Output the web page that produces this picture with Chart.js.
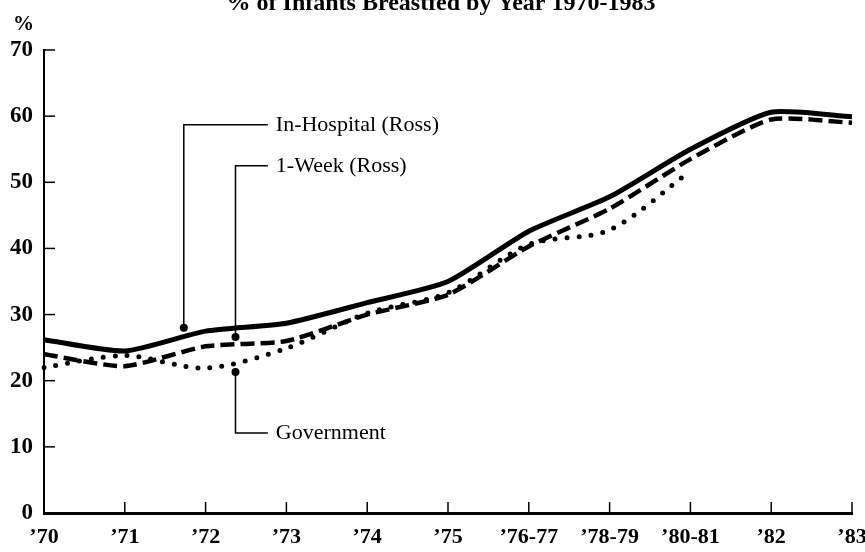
<!DOCTYPE html>
<html>
<head>
<meta charset="utf-8">
<script src="https://cdn.jsdelivr.net/npm/chart.js@4/dist/chart.umd.min.js"></script>
<style>
  html, body { margin: 0; padding: 0; background: #fff; }
  #wrap { width: 865px; height: 552px; position: relative; }
</style>
</head>
<body>
<div id="wrap"><canvas id="c"></canvas></div>
<script>
// data
const years = ['\u201970', '\u201971', '\u201972', '\u201973', '\u201974', '\u201975', '\u201976-77', '\u201978-79', '\u201980-81', '\u201982', '\u201983'];
const inHospital = [26.2, 24.5, 27.5, 28.7, 31.8, 35.0, 42.6, 47.8, 55.0, 60.6, 59.9];
const oneWeek    = [24.0, 22.2, 25.2, 26.0, 30.0, 33.0, 40.3, 46.0, 53.5, 59.5, 59.0];
const government = [22.0, 23.8, 21.9, 24.9, 30.2, 33.3, 40.6, 42.8, 51.7, null, null];
const yTicks = [0, 10, 20, 30, 40, 50, 60, 70];

// callouts: where the marker sits (category index, value) and the level of the label
const callouts = [
  { text: 'In-Hospital (Ross)', idx: 1.73, value: 28.0, labelValue: 58.7 },
  { text: '1-Week (Ross)',      idx: 2.37, value: 26.6, labelValue: 52.5 },
  { text: 'Government',         idx: 2.37, value: 21.3, labelValue: 12.1 }
];

const SERIF = '"Liberation Serif", "DejaVu Serif", serif';

const decorPlugin = {
    id: 'decor',
    afterDraw(chart) {
        const ctx = chart.ctx;
        const x = chart.scales.x, y = chart.scales.y;
        const step = x.getPixelForValue(1) - x.getPixelForValue(0);
        const x0 = x.getPixelForValue(0);
        ctx.save();
        ctx.strokeStyle = '#000';
        ctx.fillStyle = '#000';

        // inward tick marks on y axis
        ctx.lineWidth = 1.5;
        yTicks.forEach(v => {
            if (v === 0) return;
            const py = y.getPixelForValue(v);
            ctx.beginPath();
            ctx.moveTo(x0, py);
            ctx.lineTo(x0 + 11, py);
            ctx.stroke();
        });
        // inward tick marks on x axis
        years.forEach((_, i) => {
            if (i === 0) return;
            const px = x.getPixelForValue(i);
            ctx.beginPath();
            ctx.moveTo(px, y.bottom);
            ctx.lineTo(px, y.bottom - 11);
            ctx.stroke();
        });

        // callouts
        ctx.lineWidth = 1.5;
        ctx.font = '22px ' + SERIF;
        ctx.textBaseline = 'middle';
        ctx.textAlign = 'left';
        const elbowX = x0 + 2.77 * step;
        callouts.forEach(c => {
            const px = x0 + c.idx * step;
            const py = y.getPixelForValue(c.value);
            const ly = y.getPixelForValue(c.labelValue);
            ctx.beginPath();
            ctx.moveTo(px, py);
            ctx.lineTo(px, ly);
            ctx.lineTo(elbowX, ly);
            ctx.stroke();
            ctx.beginPath();
            ctx.arc(px, py, 4, 0, Math.PI * 2);
            ctx.fill();
            ctx.fillText(c.text, elbowX + 8, ly);
        });

        // title (cut off at the top of the scan) and % unit
        ctx.font = 'bold 24px ' + SERIF;
        ctx.textAlign = 'center';
        ctx.textBaseline = 'alphabetic';
        ctx.fillText('% of Infants Breastfed by Year 1970-1983', 441, 10);
        ctx.font = 'bold 21px ' + SERIF;
        ctx.textAlign = 'left';
        ctx.fillText('%', 13, 30);
        ctx.restore();
    }
};

new Chart(document.getElementById('c'), {
    type: 'line',
    data: {
        labels: years,
        datasets: [
            { label: 'In-Hospital (Ross)', data: inHospital, borderColor: '#000', borderWidth: 5, tension: 0.2, pointRadius: 0 },
            { label: '1-Week (Ross)', data: oneWeek, borderColor: '#000', borderWidth: 4.5, borderDash: [14, 6], tension: 0.2, pointRadius: 0 },
            { label: 'Government', data: government, borderColor: '#000', borderWidth: 5, borderDash: [0, 12], borderCapStyle: 'round', tension: 0.3, pointRadius: 0 }
        ]
    },
    options: {
        responsive: true, maintainAspectRatio: false, animation: false,
        layout: { padding: { top: 50, right: 13, left: 0, bottom: 0 } },
        plugins: { legend: { display: false }, tooltip: { enabled: false } },
        scales: {
            x: {
                offset: false,
                grid: { display: false, drawTicks: false },
                border: { color: '#000', width: 3 },
                ticks: { color: '#000', padding: 11, maxRotation: 0, autoSkip: false, font: { family: SERIF, size: 22, weight: 'bold' } },
                afterFit: s => { s.height = 39; s.paddingLeft = 0; s.paddingRight = 0; }
            },
            y: {
                min: 0, max: 70,
                afterBuildTicks: s => { s.ticks = yTicks.map(v => ({ value: v })); },
                grid: { display: false, drawTicks: false },
                border: { color: '#000', width: 2 },
                ticks: { color: '#000', padding: 11, font: { family: SERIF, size: 23, weight: 'bold' } },
                afterFit: s => { s.width = 44; s.paddingTop = 0; s.paddingBottom = 0; }
            }
        }
    },
    plugins: [decorPlugin]
});
</script>
</body>
</html>
